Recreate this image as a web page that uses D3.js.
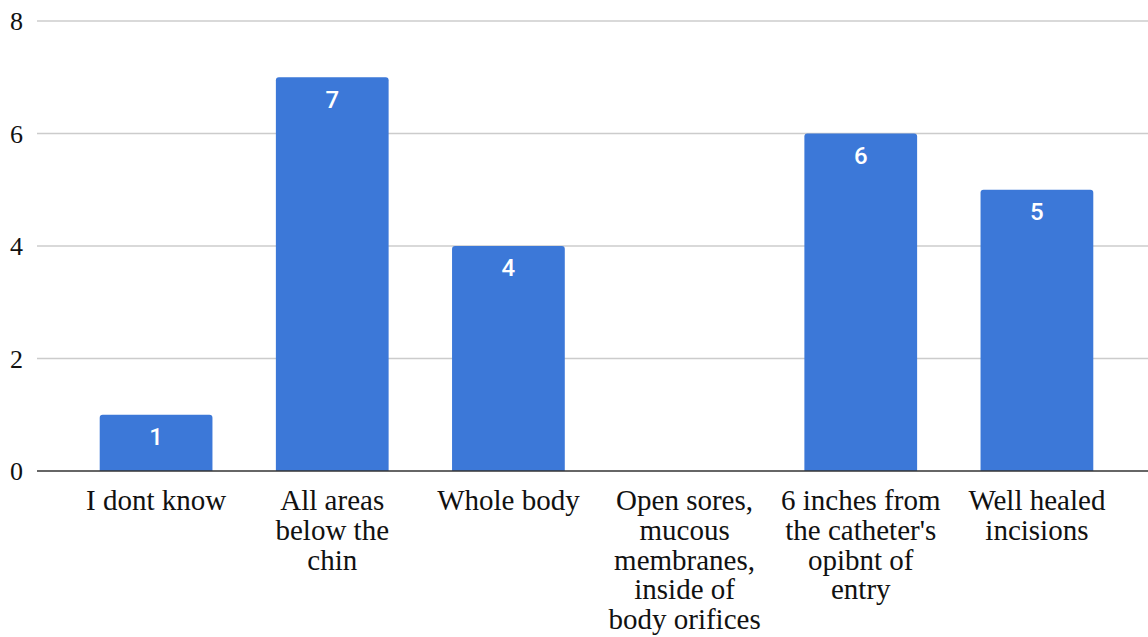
<!DOCTYPE html>
<html>
<head>
<meta charset="utf-8">
<script src="https://cdn.jsdelivr.net/npm/d3@7"></script>
<style>
  html, body { margin: 0; padding: 0; background: #fff; }
  svg { display: block; }
</style>
</head>
<body>
<svg id="chart" width="1148" height="637"></svg>
<script>
// Survey responses: which area should be cleaned
const categories = [
  "I dont know",
  "All areas below the chin",
  "Whole body",
  "Open sores, mucous membranes, inside of body orifices",
  "6 inches from the catheter's opibnt of entry",
  "Well healed incisions"
];
const counts = [1, 7, 4, 0, 6, 5];
const yTicks = [0, 2, 4, 6, 8];

const svg = d3.select("#chart");
const gridLeft = 37, gridRight = 1148;
const serif = "'Liberation Serif', 'Times New Roman', Times, serif";

const x = d3.scaleBand()
  .domain(categories)
  .range([68, 1125])
  .paddingInner(0.36)
  .paddingOuter(0.18);

const y = d3.scaleLinear().domain([0, 8]).range([471, 21]);

// Horizontal gridlines
svg.append("g")
  .selectAll("line")
  .data(yTicks.filter(d => d !== 0))
  .join("line")
  .attr("x1", gridLeft).attr("x2", gridRight)
  .attr("y1", d => y(d)).attr("y2", d => y(d))
  .attr("stroke", "#cccccc").attr("stroke-width", 1.3);

// Y tick labels
svg.append("g")
  .selectAll("text")
  .data(yTicks)
  .join("text")
  .attr("x", 23)
  .attr("y", d => y(d))
  .attr("dy", "0.35em")
  .attr("text-anchor", "end")
  .attr("font-family", serif)
  .attr("font-size", 26)
  .attr("fill", "#111")
  .text(d => d);

// Bars with rounded top corners
const r = 3;
function barPath(d, i) {
  const x0 = x(categories[i]), w = x.bandwidth();
  const top = y(d), base = y(0);
  if (base - top < 0.5) return "";
  return `M${x0},${base}V${top + r}Q${x0},${top} ${x0 + r},${top}` +
         `H${x0 + w - r}Q${x0 + w},${top} ${x0 + w},${top + r}V${base}Z`;
}
svg.append("g")
  .selectAll("path")
  .data(counts)
  .join("path")
  .attr("d", barPath)
  .attr("fill", "#3c78d8");

// Value labels inside bars
svg.append("g")
  .selectAll("text")
  .data(counts.map((v, i) => ({ v, c: categories[i] })).filter(d => d.v > 0))
  .join("text")
  .attr("x", d => x(d.c) + x.bandwidth() / 2)
  .attr("y", d => y(d.v) + 22)
  .attr("dy", "0.35em")
  .attr("text-anchor", "middle")
  .attr("font-family", "Roboto, Arial, sans-serif")
  .attr("font-weight", 500)
  .attr("font-size", 24)
  .attr("fill", "#ffffff")
  .text(d => d.v);

// Baseline
svg.append("line")
  .attr("x1", gridLeft).attr("x2", gridRight)
  .attr("y1", y(0)).attr("y2", y(0))
  .attr("stroke", "#333333").attr("stroke-width", 1.6);

// Category labels, wrapped to the band
const labels = svg.append("g")
  .selectAll("text")
  .data(categories)
  .join("text")
  .attr("x", d => x(d) + x.bandwidth() / 2)
  .attr("y", 510)
  .attr("text-anchor", "middle")
  .attr("font-family", serif)
  .attr("font-size", 29)
  .attr("fill", "#111");

labels.each(function (d) {
  const text = d3.select(this);
  const words = d.split(/\s+/);
  const maxW = 163;
  let line = [];
  let tspan = text.append("tspan").attr("x", text.attr("x")).attr("dy", 0);
  for (const w of words) {
    line.push(w);
    tspan.text(line.join(" "));
    if (tspan.node().getComputedTextLength() > maxW && line.length > 1) {
      line.pop();
      tspan.text(line.join(" "));
      line = [w];
      tspan = text.append("tspan")
        .attr("x", text.attr("x"))
        .attr("dy", 29.8)
        .text(w);
    }
  }
});
</script>
</body>
</html>
